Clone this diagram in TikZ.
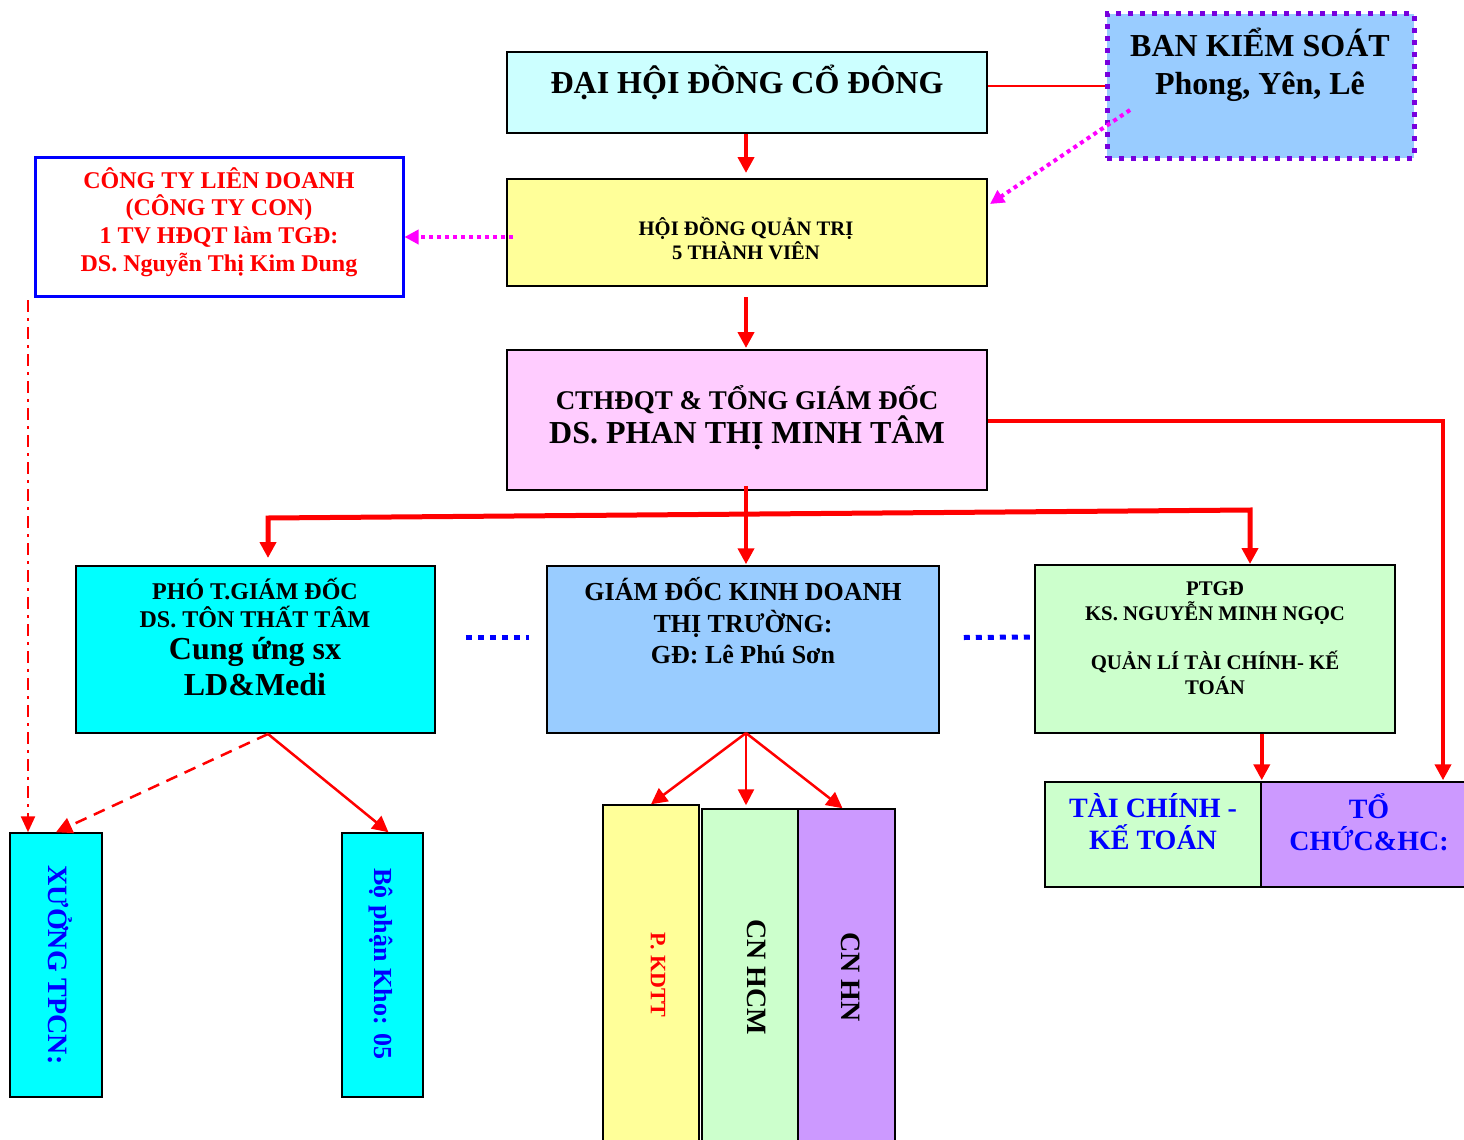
\documentclass[tikz,border=0pt]{standalone}
\usepackage{fontspec}
\setmainfont{Liberation Serif}
\usetikzlibrary{arrows.meta,calc}
\definecolor{cLcyan}{HTML}{CCFFFF}
\definecolor{cYel}{HTML}{FFFF99}
\definecolor{cPink}{HTML}{FFCCFF}
\definecolor{cCyan}{HTML}{00FFFF}
\definecolor{cSky}{HTML}{99CCFF}
\definecolor{cGreen}{HTML}{CCFFCC}
\definecolor{cViolet}{HTML}{CC99FF}
\definecolor{cPurple}{HTML}{7700DD}
\definecolor{cRed}{HTML}{FF0000}
\definecolor{cBlue}{HTML}{0000FF}
\definecolor{cMag}{HTML}{FF00FF}
\begin{document}
\begin{tikzpicture}[x=1pt,y=-1pt,
  box/.style={draw=black,line width=2pt,rectangle,inner sep=0pt},
  txt/.style={align=center,inner sep=0pt,font=\bfseries},
  tip/.style={-{Triangle[length=16pt,width=16pt]}},
  redarrow/.style={draw=cRed,line width=4pt,tip},
  thinred/.style={draw=cRed,line width=2.5pt,-{Triangle[length=16pt,width=16pt]}},
  magdot/.style={draw=cMag,line width=4pt,dash pattern=on 4pt off 4pt,-{Triangle[length=14pt,width=14pt]}},
  bluedot/.style={draw=cBlue,line width=5pt,dash pattern=on 6pt off 6pt}
]
\useasboundingbox (0,0) rectangle (1464,1140);

% boxes
\node[box,fill=cLcyan,minimum width=480pt,minimum height=81pt] (dhcd) at (747,92.5) {};
\node[box,fill=cSky,draw=cPurple,line width=5pt,dash pattern=on 5pt off 7pt,minimum width=307pt,minimum height=144pt] (bks) at (1260.5,86) {};
\node[box,fill=cYel,minimum width=480pt,minimum height=107pt] (hdqt) at (747,232.5) {};
\node[box,fill=white,draw=cBlue,line width=3pt,minimum width=368pt,minimum height=139pt] (ctld) at (219,226.5) {};
\node[box,fill=cPink,minimum width=480pt,minimum height=140pt] (cthd) at (747,420) {};
\node[box,fill=cCyan,line width=1.5pt,minimum width=359pt,minimum height=167pt] (ptgd) at (255.5,649.5) {};
\node[box,fill=cSky,line width=1.5pt,minimum width=392pt,minimum height=167pt] (gdkd) at (743,649.5) {};
\node[box,fill=cGreen,minimum width=360pt,minimum height=168pt] (ptgd2) at (1215,649) {};
\node[box,fill=cGreen,line width=1.5pt,minimum width=216pt,minimum height=105pt] (tckt) at (1153,834.5) {};
\node[box,fill=cViolet,line width=1.5pt,minimum width=209pt,minimum height=105pt] (tchc) at (1365.5,834.5) {};
\node[box,fill=cCyan,line width=1.5pt,minimum width=92pt,minimum height=264pt] (xuong) at (56,965) {};
\node[box,fill=cCyan,line width=1.5pt,minimum width=81pt,minimum height=264pt] (kho) at (382.5,965) {};
\node[box,fill=cYel,line width=1.5pt,minimum width=96pt,minimum height=340pt] (pkdtt) at (651,975) {};
\node[box,fill=cGreen,line width=1.5pt,minimum width=96pt,minimum height=336pt] (cnhcm) at (750,977) {};
\node[box,fill=cViolet,line width=1.5pt,minimum width=97pt,minimum height=336pt] (cnhn) at (846.5,977) {};

% texts
\node[txt,font=\bfseries\fontsize{32}{38}\selectfont] (t-dhcd) at (747,82) {ĐẠI HỘI ĐỒNG CỔ ĐÔNG};
\node[txt,font=\bfseries\fontsize{32}{38}\selectfont] (t-bks) at (1260,65) {BAN KIỂM SOÁT\\Phong, Yên, Lê};
\node[txt,font=\bfseries\fontsize{20.6}{24}\selectfont] (t-hdqt) at (746,238) {HỘI ĐỒNG QUẢN TRỊ\\5 THÀNH VIÊN};
\node[txt,text=cRed,font=\bfseries\fontsize{24}{27.7}\selectfont] (t-ctld) at (219,222) {CÔNG TY LIÊN DOANH\\(CÔNG TY CON)\\1 TV HĐQT làm TGĐ:\\DS. Nguyễn Thị Kim Dung};
\node[txt,font=\bfseries\fontsize{27}{33}\selectfont] (t-cthd1) at (747,400) {CTHĐQT \& TỔNG GIÁM ĐỐC};
\node[txt,font=\bfseries\fontsize{32}{36}\selectfont] (t-cthd2) at (747,433) {DS. PHAN THỊ MINH TÂM};
\node[txt,font=\bfseries\fontsize{24}{28}\selectfont] (t-ptgd1) at (255,603) {PHÓ T.GIÁM ĐỐC\\DS. TÔN THẤT TÂM};
\node[txt,font=\bfseries\fontsize{32}{36}\selectfont] (t-ptgd2) at (255,667) {Cung ứng sx\\LD\&Medi};
\node[txt,font=\bfseries\fontsize{26}{31.5}\selectfont] (t-gdkd) at (743,621) {GIÁM ĐỐC KINH DOANH\\THỊ TRƯỜNG:\\GĐ: Lê Phú Sơn};
\node[txt,font=\bfseries\fontsize{20.8}{24.5}\selectfont] (t-ptgd2x) at (1215,638) {PTGĐ\\KS. NGUYỄN MINH NGỌC\\[25pt]QUẢN LÍ TÀI CHÍNH- KẾ\\TOÁN};
\node[txt,text=cBlue,font=\bfseries\fontsize{28}{32}\selectfont] (t-tckt) at (1153,822) {TÀI CHÍNH -\\KẾ TOÁN};
\node[txt,text=cBlue,font=\bfseries\fontsize{28}{32}\selectfont] (t-tchc) at (1369,822) {TỔ\\CHỨC\&HC:};
\node[txt,text=cBlue,rotate=-90,font=\bfseries\fontsize{28}{33}\selectfont] (t-xuong) at (60,965) {XƯỞNG TPCN:};
\node[txt,text=cBlue,rotate=-90,font=\bfseries\fontsize{26}{30}\selectfont] (t-kho) at (381,964) {Bộ phận Kho: 05};
\node[txt,text=cRed,rotate=-90,font=\bfseries\fontsize{22}{26}\selectfont] (t-pkdtt) at (658,975) {P. KDTT};
\node[txt,rotate=-90,font=\bfseries\fontsize{28}{32}\selectfont] (t-cnhcm) at (757,977) {CN HCM};
\node[txt,rotate=-90,font=\bfseries\fontsize{28}{32}\selectfont] (t-cnhn) at (851,977) {CN HN};

% coordinates
\coordinate (bksin) at (1130,110);
\coordinate (hdqtR) at (990,204);
\coordinate (m1) at (513,237);
\coordinate (corner) at (1443,421);
\coordinate (b1) at (268,518);
\coordinate (b2) at (1250,510);
\coordinate (a1) at (268,558);
\coordinate (f1) at (268,734);
\coordinate (f2) at (746,733);
\coordinate (dd) at (28,300);

% connectors
\draw[cRed,line width=2.5pt] (dhcd.east |- bks.west) -- (bks.west);
\draw[magdot] (bksin) -- (hdqtR);
\draw[redarrow,shorten >=5pt] (dhcd.south -| 746,0) -- (hdqt.north -| 746,0);
\draw[magdot] (m1) -- (m1 -| ctld.east);
\draw[redarrow,shorten >=1pt] (hdqt.south -| 746,0) ++(0,10) -- (cthd.north -| 746,0);
\draw[redarrow,line width=4.5pt,shorten >=1pt] (cthd.east |- corner) -- (corner) -- (corner |- tchc.north);
\draw[redarrow,shorten >=1pt] (cthd.south -| 746,0) ++(0,-5) -- (gdkd.north -| 746,0);
\draw[draw=cRed,line width=5pt,{Triangle[length=16pt,width=16pt]}-{Triangle[length=16pt,width=16pt]}] (a1) -- (b1) -- (b2) -- (b2 |- ptgd2.north);
\draw[draw=cRed,line width=2.5pt,dash pattern=on 12pt off 8pt,-{Triangle[length=16pt,width=16pt]}] (f1) -- (xuong.north);
\draw[thinred] (f1) -- ([xshift=6pt]kho.north);
\draw[draw=cRed,line width=2.5pt,dash pattern=on 12pt off 6pt on 3pt off 6pt,-{Triangle[length=16pt,width=14pt]}] (dd) -- (dd |- xuong.north);
\draw[bluedot] ($(ptgd.east)+(30,-12)$) -- ($(gdkd.west)+(-17,-12)$);
\draw[bluedot] ($(gdkd.east)+(24,-12)$) -- ($(ptgd2.west)+(0,-12)$);
\draw[thinred] (f2) -- (pkdtt.north);
\draw[thinred,shorten >=3pt] (f2) -- (f2 |- cnhcm.north);
\draw[thinred] (f2) -- ([xshift=-4pt]cnhn.north);
\draw[redarrow,shorten >=1pt] (ptgd2.south -| tckt.east) -- (tckt.north east);
\end{tikzpicture}
\end{document}
